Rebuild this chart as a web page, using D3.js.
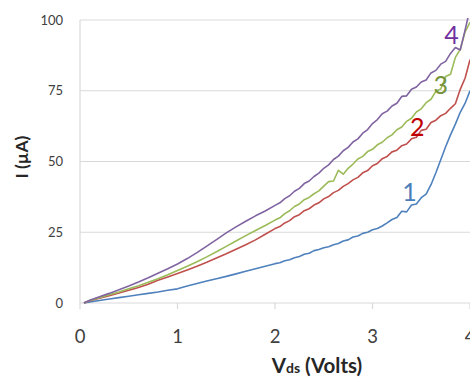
<!DOCTYPE html>
<html><head><meta charset="utf-8">
<script src="https://cdn.jsdelivr.net/npm/d3@7"></script>
<style>
html,body{margin:0;padding:0;background:#fff;}
svg{display:block;}
text{font-family:Lato,"Open Sans",sans-serif;}
</style></head>
<body><svg id="c" width="470" height="378"></svg>
<script>
const vds = [0.04,0.1,0.2,0.3,0.4,0.5,0.6,0.7,0.8,0.9,1.0,1.1,1.2,1.3,1.4,1.5,1.6,1.7,1.8,1.9,2.0,
  2.05,2.1,2.15,2.2,2.25,2.3,2.35,2.4,2.45,2.5,2.55,2.6,2.65,2.7,2.75,2.8,2.85,2.9,2.95,3.0,
  3.05,3.1,3.15,3.2,3.25,3.3,3.35,3.4,3.45,3.5,3.55,3.6,3.65,3.7,3.75,3.8,3.85,3.9,3.95,4.0];
const curve1 = [0,0.4,0.9,1.4,1.9,2.4,2.9,3.4,3.9,4.5,5.0,6.0,6.9,7.8,8.6,9.4,10.3,11.2,12.1,13.0,13.9,
  14.2,14.9,15.3,16.0,16.4,17.2,17.6,18.5,18.9,19.5,19.9,20.6,21.0,21.9,22.3,23.3,23.7,24.6,25.0,25.9,
  26.3,27.2,28.3,29.5,30.2,32.4,32.2,34.6,35.0,37.2,38.5,41.8,46.0,50.6,55.2,59.4,63.2,67.4,70.6,75.0];
const curve2 = [0,0.8,1.7,2.6,3.5,4.5,5.5,6.6,8.0,9.2,10.4,11.7,13.0,14.4,15.9,17.4,19.0,20.6,22.3,24.3,26.3,
  27.0,28.3,29.1,30.5,31.2,32.6,33.3,34.6,35.4,36.8,37.6,39.0,39.8,41.2,42.2,43.5,44.4,46.0,46.8,48.5,
  49.3,51.0,51.8,53.4,54.0,55.6,56.2,58.0,58.6,61.0,61.4,63.8,64.6,66.2,67.0,68.8,70.4,75.5,79.5,86.0];
const curve3 = [0,0.9,1.9,2.9,3.9,5.0,6.1,7.3,8.6,10.0,11.5,13.0,14.6,16.3,18.1,20.0,21.9,23.8,25.6,27.4,29.3,
  30.1,31.6,32.6,34.1,35.0,36.5,37.3,38.6,39.6,41.3,42.9,43.1,46.9,45.5,47.6,49.1,50.9,51.8,53.5,54.3,
  55.9,56.8,58.4,59.4,61.2,62.2,64.2,65.3,67.5,68.6,70.8,72.0,74.8,75.6,80.0,80.8,86.8,89.6,95.8,99.2];
const curve4 = [0,1.0,2.2,3.4,4.7,6.0,7.4,8.9,10.5,12.1,13.8,15.7,17.8,20.1,22.4,24.8,26.9,28.9,30.8,32.5,34.5,
  35.4,36.9,37.9,39.5,40.5,42.2,43.1,44.7,45.9,47.6,48.8,50.7,51.9,53.8,55.0,56.9,58.0,60.0,61.3,63.4,
  64.8,66.9,67.8,69.6,70.6,73.0,73.2,75.5,76.3,78.1,78.8,81.3,82.2,84.4,85.4,88.2,90.3,89.4,96.5,104];
const seriesNames = ["1","2","3","4"];
const xTicks = [0,1,2,3,4];
const yTicks = [0,25,50,75,100];

const series = [
  {name:"1", values:curve1, color:"#4f81bd", labelColor:"#4a7ebb", lv:3.38, li:36},
  {name:"2", values:curve2, color:"#c0504d", labelColor:"#c00000", lv:3.46, li:59},
  {name:"3", values:curve3, color:"#9bbb59", labelColor:"#77933c", lv:3.7, li:74},
  {name:"4", values:curve4, color:"#8064a2", labelColor:"#7030a0", lv:3.81, li:91.5}
];

const svg = d3.select("#c");
const x = d3.scaleLinear().domain([0,4]).range([80,470]);
const y = d3.scaleLinear().domain([0,100]).range([303,20]);

svg.append("g").selectAll("line").data(yTicks).join("line")
  .attr("x1",80).attr("x2",470).attr("y1",d=>y(d)).attr("y2",d=>y(d))
  .attr("stroke","#d9d9d9").attr("stroke-width",1.2);
svg.append("line").attr("x1",x(0)).attr("x2",x(0)).attr("y1",y(100)).attr("y2",y(0)+6)
  .attr("stroke","#d9d9d9").attr("stroke-width",1.2);
svg.append("g").selectAll("line").data(xTicks.slice(1)).join("line")
  .attr("x1",d=>x(d)).attr("x2",d=>x(d)).attr("y1",y(0)).attr("y2",y(0)+6)
  .attr("stroke","#d9d9d9").attr("stroke-width",1.2);

svg.append("g").selectAll("text").data(yTicks).join("text")
  .attr("x",63).attr("y",d=>y(d)).attr("dy","0.35em").attr("text-anchor","end")
  .attr("font-size",13).attr("fill","#404040").text(d=>d);
svg.append("g").selectAll("text").data(xTicks).join("text")
  .attr("x",d=>x(d)).attr("y",337).attr("dy","0.35em").attr("text-anchor","middle")
  .attr("font-size",18.5).attr("fill","#404040").text(d=>d);

svg.append("clipPath").attr("id","clip").append("rect")
  .attr("x",80).attr("y",y(100)-2).attr("width",400).attr("height",300);

const line = d3.line().x((d,i)=>x(vds[i])).y(d=>y(d));
svg.append("g").attr("clip-path","url(#clip)").selectAll("path").data(series).join("path")
  .attr("d",s=>line(s.values)).attr("fill","none").attr("stroke",s=>s.color)
  .attr("stroke-width",1.6).attr("stroke-linejoin","round");

svg.append("g").selectAll("text").data(series).join("text")
  .attr("x",s=>x(s.lv)).attr("y",s=>y(s.li)).attr("text-anchor","middle")
  .attr("font-size",25).attr("fill",s=>s.labelColor).text(s=>s.name);

const xt = svg.append("text").attr("x",317).attr("y",373).attr("text-anchor","middle")
  .attr("font-size",20.5).attr("font-weight","bold").attr("fill","#262626");
xt.append("tspan").text("V");
xt.append("tspan").attr("font-size",14).text("ds");
xt.append("tspan").text(" (Volts)");

svg.append("text").attr("transform","translate(28,157) rotate(-90)").attr("text-anchor","middle")
  .attr("font-size",17.5).attr("font-weight","bold").attr("fill","#262626").text("I (µA)");
</script>
</body></html>
